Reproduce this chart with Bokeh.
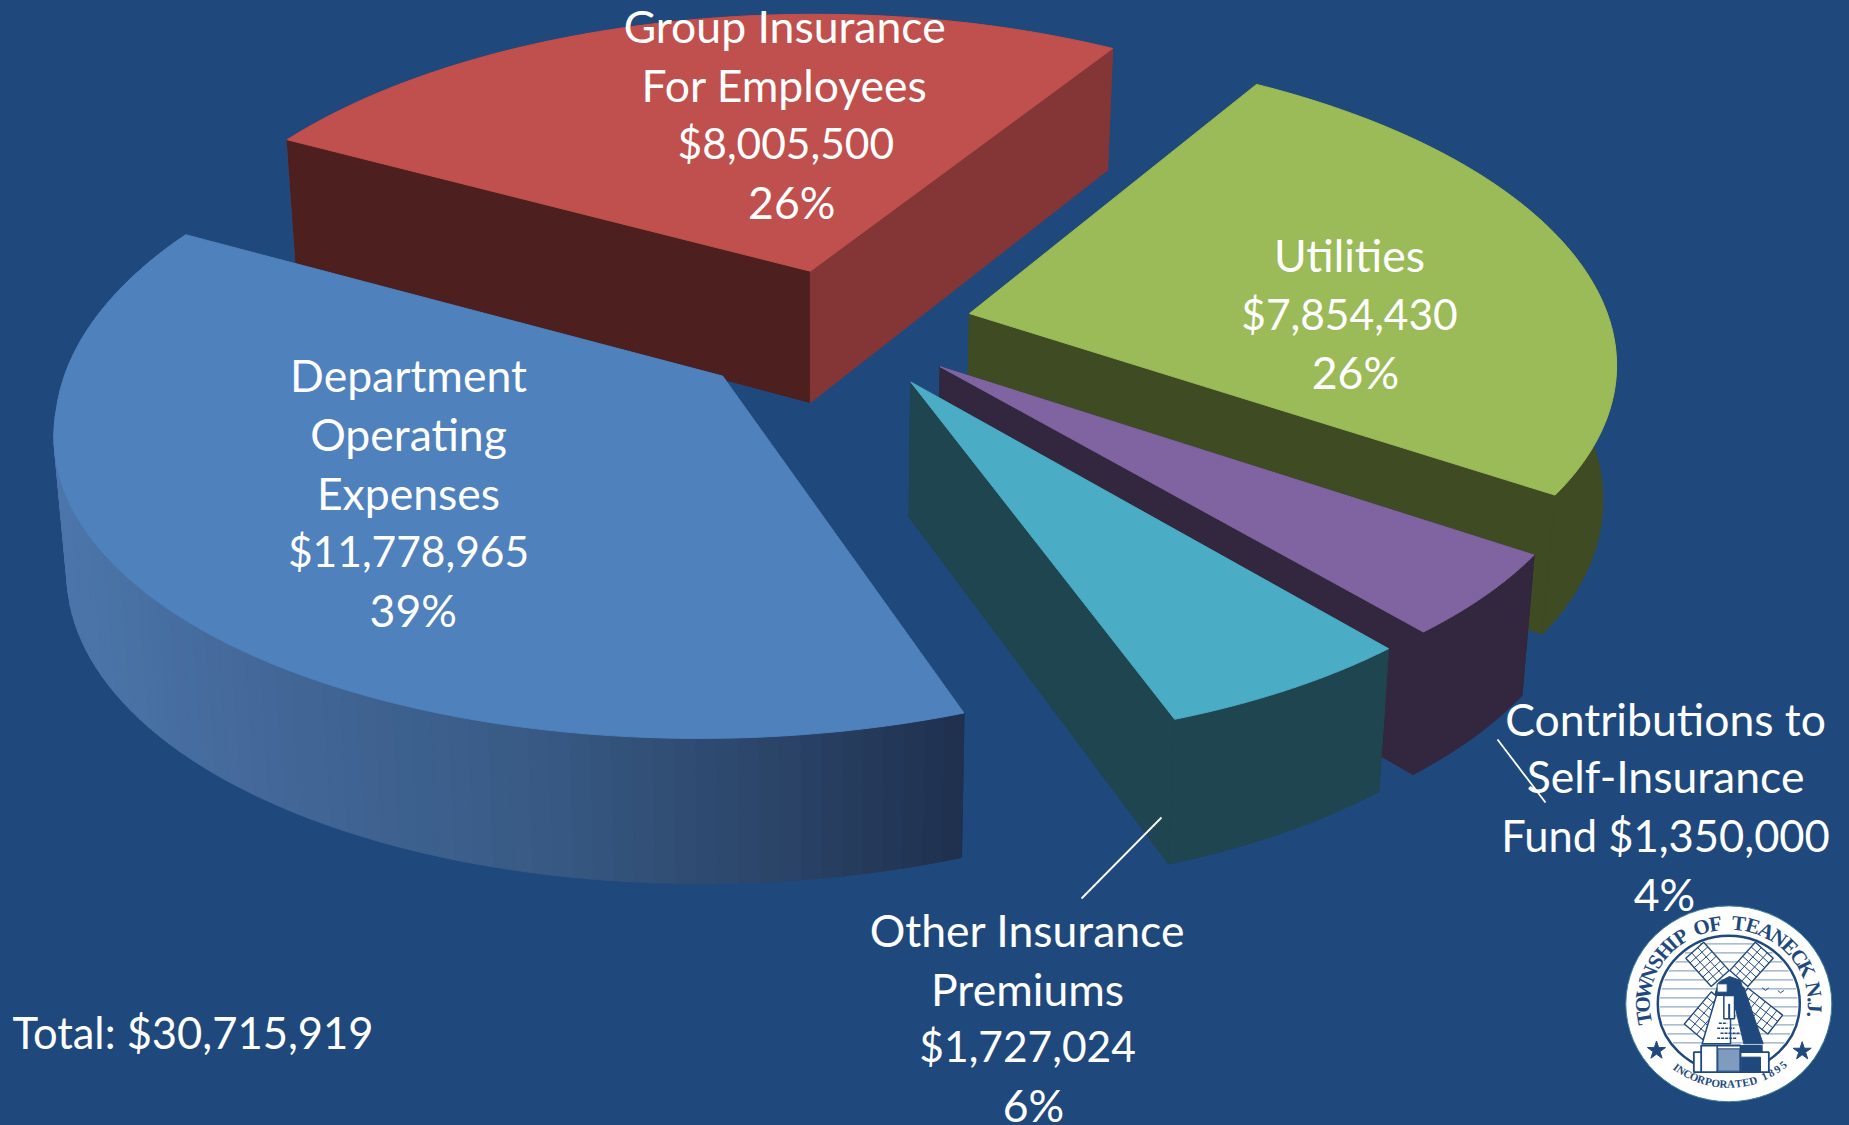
import numpy as np
from bokeh.plotting import figure
from bokeh.models import ColumnDataSource
from bokeh.core.properties import value
from bokeh.embed import file_html
from bokeh.resources import INLINE

# ---------- data ----------
slices = ["Group Insurance For Employees", "Utilities", "Contributions to Self-Insurance Fund",
          "Other Insurance Premiums", "Department Operating Expenses"]
amounts = [8005500, 7854430, 1350000, 1727024, 11778965]
total_label = "Total: $30,715,919"

label_lines = ["Group Insurance", "For Employees", "$8,005,500", "26%",
               "Utilities", "$7,854,430", "26%",
               "Department", "Operating", "Expenses", "$11,778,965", "39%",
               "Contributions to", "Self-Insurance", "Fund $1,350,000", "4%",
               "Other Insurance", "Premiums", "$1,727,024", "6%"]
label_x = [665, 665, 666, 671, 1144, 1144, 1149, 346, 346, 346, 346, 350,
           1412, 1412, 1412, 1411, 871, 871, 871, 876]
label_y = [21.5, 71.5, 120.5, 170.5, 215.5, 265.5, 314.5, 317.5, 367.5, 417.5, 466.5, 516.5,
           608.5, 657.5, 707.5, 757.5, 787.5, 837.5, 886.5, 936.5]
label_size = ["42.5px" if "$" in t and not t.startswith("Fund") else ("43.5px" if t.startswith("Fund") else "44.5px")
              for t in label_lines]

# ---------- styling / camera ----------
BG = "#1F497D"
top_col = ["#C0504D", "#9BBB59", "#8064A2", "#4BACC6", "#4F81BD"]
wall_col = ["#843636", "#3F4B22", "#33273F", "#1F4550", "#1F304E"]
end_wall = ["#4D1F1F", "#3F4B22", "#33273F", "#1F4550", "#1F304E"]
explode = [0.18, 0.20, 0.20, 0.21, 0.235]
radius = [1.0, 0.97, 0.95, 0.94, 0.965]
v_stretch = [1.05, 1.03, 1.0, 1.0, 0.985]
turn = [0.0, 1.2, 0.5, 0.5, 0.0]
nudge = [(0, -2), (0, 0), (0, 0), (0, 0), (3, 3)]
rim_nudge = [(0, 0), (-4, -8), (0, 0), (0, 0), (0, 0)]
START = 208.2
S = 1849 / 1568
X0, Y0, R, RF, K = 712.0, 275.0, 562.0, 257.0, 1 / 6
draw_order = [0, 4, 1, 2, 3]

def project(U, V):
    w = 1 - K * V
    return X0 + R * U / w, Y0 + RF * V / w, w

def drop(x, y, w):
    return 690 + (x - 690) * 0.983, y + 113 + 55 * (1 - w)

p = figure(width=1849, height=1125, x_range=(0, 1849), y_range=(1125, 0), min_border=0,
           toolbar_location=None, output_backend="svg", background_fill_color=BG,
           border_fill_color=BG, outline_line_color=None)
p.axis.visible = False
p.grid.visible = False

def poly(xs, ys, color):
    p.patch(np.asarray(xs) * S, np.asarray(ys) * S, fill_color=color, line_color=color, line_width=1)

def mix(stops, t):
    xs = [s[0] for s in stops]
    rgb = [np.interp(t, xs, [int(s[1][i:i + 2], 16) for s in stops]) for i in (1, 3, 5)]
    return "#%02x%02x%02x" % tuple(int(round(c)) for c in rgb)

BLUE_STOPS = [(48, "#4C76AB"), (200, "#44699A"), (450, "#385A85"), (650, "#2B4569"), (818, "#1F304E")]

sweep = np.array(amounts) / sum(amounts) * 360
starts = START + np.concatenate([[0], np.cumsum(sweep)[:-1]])

for i in draw_order:
    a0, sw = starts[i] + turn[i], sweep[i]
    mid = np.radians(a0 + sw / 2)
    ax, ay = explode[i] * np.cos(mid), explode[i] * np.sin(mid)
    th = np.radians(np.linspace(a0, a0 + sw, 90))
    rx, ry, rw = project(ax + radius[i] * np.cos(th), ay + radius[i] * v_stretch[i] * np.sin(th))
    cx, cy, cw = project(ax, ay)
    rx, ry, cx, cy = rx + nudge[i][0], ry + nudge[i][1], cx + nudge[i][0], cy + nudge[i][1]
    rx, ry = rx + rim_nudge[i][0], ry + rim_nudge[i][1]
    if i == 4:  # the back-left of this slice's rim sits a little further out
        f = np.clip((0.1 - np.sin(th)) / 0.57, 0, 1)
        rx, ry = rx - 7 * f, ry - 7 * f
    bx, by = drop(rx, ry, rw)
    cbx, cby = drop(cx, cy, cw)

    def radial():
        poly([cx, rx[0], bx[0], cbx], [cy, ry[0], by[0], cby], end_wall[i])
        poly([cx, rx[-1], bx[-1], cbx], [cy, ry[-1], by[-1], cby], wall_col[i])

    if i != 0:
        radial()
    # outer wall
    if i == 4:
        for j in range(len(th) - 1):
            c = mix(BLUE_STOPS, (rx[j] + rx[j + 1]) / 2)
            poly([rx[j], rx[j + 1], bx[j + 1], bx[j]], [ry[j], ry[j + 1], by[j + 1], by[j]], c)
    else:
        poly(np.r_[rx, bx[::-1]], np.r_[ry, by[::-1]], wall_col[i])
    if i == 0:
        radial()
    # top
    poly(np.r_[cx, rx], np.r_[cy, ry], top_col[i])

# leader lines
p.line([1497, 1545], [739, 802], line_color="white", line_width=1.8)
p.line([1161, 1081], [817, 898], line_color="white", line_width=1.8)

# labels
font = value("Lato")
src = ColumnDataSource(dict(x=np.array(label_x) * S, y=np.array(label_y) * S, t=label_lines, s=label_size))
p.text("x", "y", text="t", source=src, text_color="white", text_font=font, text_font_size="s",
       text_align="center", text_baseline="middle")
tsrc = ColumnDataSource(dict(x=[12], y=[874.5 * S], t=[total_label]))
p.text("x", "y", text="t", source=tsrc, text_color="white", text_font=font, text_font_size="43.5px",
       text_align="left", text_baseline="middle")

# ---------- township seal ----------
LX, LY, LRX, LRY = 1728.3, 1003.3, 103, 98
def zx(v): return 1580 + v / 3
def zy(v): return 880 + v / 3
BL = "#1F497D"
p.ellipse([LX], [LY], width=2 * LRX, height=2 * LRY, fill_color="white", line_color="#3F7F9F", line_width=1)
p.ellipse([LX], [LY], width=142, height=136, fill_color="white", line_color=BL, line_width=2.5)
# sky stripes
for zyv in range(190, 500, 27):
    yy = zy(zyv)
    hw = 69 * np.sqrt(max(0, 1 - ((yy - LY) / 66) ** 2))
    p.line([LX - hw, LX + hw], [yy, yy], line_color="#8FA8C4", line_width=1.2)

def blade(x0, y0, ang, L, W, off):
    d = np.array([np.cos(ang), np.sin(ang)])
    n = np.array([-d[1], d[0]])
    o = np.array([x0, y0]) + d * off
    p.patch([o[0] + n[0] * W, o[0] + d[0] * L + n[0] * W, o[0] + d[0] * L - n[0] * W, o[0] - n[0] * W],
            [o[1] + n[1] * W, o[1] + d[1] * L + n[1] * W, o[1] + d[1] * L - n[1] * W, o[1] - n[1] * W],
            fill_color="white", line_color=BL, line_width=1.4)
    for t in np.linspace(0, L, 7)[1:-1]:
        q = o + d * t
        p.line([q[0] - n[0] * W, q[0] + n[0] * W], [q[1] - n[1] * W, q[1] + n[1] * W], line_color=BL, line_width=1)
    for s in (-W / 3, W / 3):
        p.line([o[0] + n[0] * s, o[0] + d[0] * L + n[0] * s], [o[1] + n[1] * s, o[1] + d[1] * L + n[1] * s],
               line_color=BL, line_width=1)

hx, hy = zx(447), zy(325)
for ang, L in ((-132, 38), (-48, 38), (130, 42), (38, 44)):
    blade(hx, hy, np.radians(ang), L, 12, 14)

# tower
p.patch([zx(365), zx(412), zx(450), zx(450)],
        [zy(490), zy(330), zy(330), zy(490)], fill_color="white", line_color=BL, line_width=1.5)
p.patch([zx(450), zx(490), zx(548), zx(490)], [zy(320), zy(320), zy(490), zy(490)], fill_color=BL, line_color=BL)
p.patch([zx(405), zx(415), zx(447), zx(480), zx(490), zx(490), zx(405)],
        [zy(335), zy(305), zy(288), zy(300), zy(335), zy(345), zy(345)], fill_color=BL, line_color=BL)
p.patch([zx(410), zx(440), zx(440), zx(410)], [zy(310), zy(310), zy(335), zy(335)], fill_color="white", line_color=BL)
p.patch([zx(430), zx(462), zx(462), zx(430)], [zy(345), zy(345), zy(415), zy(415)], fill_color="white", line_color=BL, line_width=1.5)
p.line([zx(446), zx(446)], [zy(370), zy(415)], line_color=BL, line_width=2)
for k, (a, b) in enumerate([(415, 440), (410, 462), (420, 480), (410, 470)]):
    yy = zy(428 + k * 15)
    p.line([zx(a), zx(b)], [yy, yy], line_color=BL, line_width=1.5, line_dash="3 1")
# base
p.patch([zx(340), zx(565), zx(565), zx(340)], [zy(515), zy(515), zy(575), zy(575)], fill_color="white", line_color=BL, line_width=1.8)
p.patch([zx(362), zx(480), zx(480), zx(362)], [zy(495), zy(495), zy(575), zy(575)], fill_color="white", line_color=BL, line_width=1.8)
p.patch([zx(480), zx(545), zx(545), zx(480)], [zy(495), zy(495), zy(515), zy(515)], fill_color=BL, line_color=BL)
p.patch([zx(482), zx(540), zx(540), zx(482)], [zy(530), zy(530), zy(575), zy(575)], fill_color=BL, line_color=BL)
p.line([zx(410), zx(410)], [zy(495), zy(575)], line_color=BL, line_width=1.5)
p.patch([zx(412), zx(478), zx(478), zx(412)], [zy(505), zy(505), zy(572), zy(572)], fill_color="#7F9CC0", line_color=BL)
# birds
p.line([zx(545), zx(555), zx(565)], [zy(322), zy(330), zy(322)], line_color=BL, line_width=1)
p.line([zx(592), zx(600), zx(610)], [zy(330), zy(337), zy(330)], line_color=BL, line_width=1)
# stars
p.scatter([zx(228), zx(665)], [zy(510), zy(512)], marker="star", size=19, fill_color=BL, line_color=BL)

# ring lettering, spaced by rough glyph widths
def arc_angles(text, a_from, a_to):
    wd = {"I": 0.55, ".": 0.45, " ": 0.6, "M": 1.25, "W": 1.3, "J": 0.7}
    w = np.array([wd.get(c, 1.0) for c in text])
    pos = np.cumsum(w) - w / 2
    return np.radians(a_from + (a_to - a_from) * (pos - pos[0]) / (pos[-1] - pos[0]))

top_text = "TOWNSHIP OF TEANECK N.J."
tt = arc_angles(top_text, 190, -8)
p.text(LX + 86 * np.cos(tt), LY - 81 * np.sin(tt), text=list(top_text), angle=tt - np.pi / 2,
       text_color=BL, text_font=value("Liberation Serif"), text_font_style="bold", text_font_size="21px",
       text_align="center", text_baseline="middle")
bot_text = "INCORPORATED 1895"
bt = arc_angles(bot_text, 232, 310)
p.text(LX + 85 * np.cos(bt), LY - 80 * np.sin(bt), text=list(bot_text), angle=bt + np.pi / 2,
       text_color=BL, text_font=value("Liberation Serif"), text_font_style="bold", text_font_size="11px",
       text_align="center", text_baseline="middle")

html = file_html(p, INLINE)
html = html.replace("<head>", "<head><style>html,body{background:%s;overflow:hidden}</style>" % BG, 1)
open("out.html", "w").write(html)
